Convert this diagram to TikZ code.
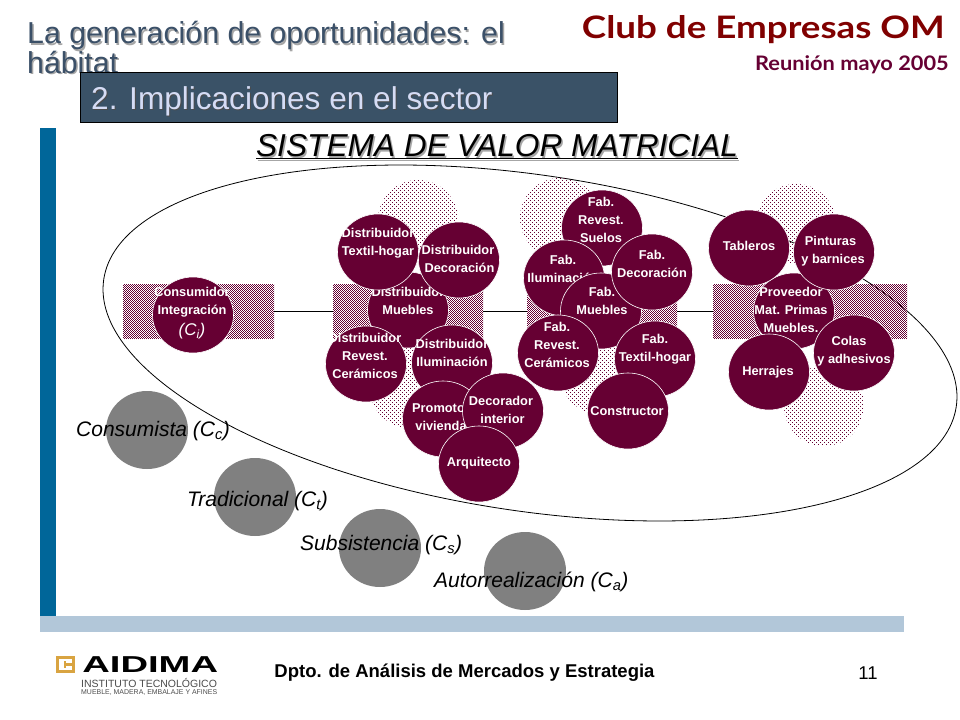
\documentclass[tikz,border=0pt]{standalone}
\usepackage{fontspec}
\setmainfont{Liberation Sans}
\newfontfamily\headfont{Lato}
\usetikzlibrary{shapes.geometric}
\definecolor{wine}{HTML}{660033}
\definecolor{slatebox}{HTML}{3A5267}
\definecolor{headtxt}{HTML}{3B5068}
\definecolor{boxtxt}{HTML}{D5DCF5}
\definecolor{barblue}{HTML}{006699}
\definecolor{barlight}{HTML}{B2C7D9}
\definecolor{clubred}{HTML}{800000}
\definecolor{logoor}{HTML}{D9A441}
\tikzset{
  bub/.style={ellipse,draw=white,line width=0.6bp,fill=wine,minimum width=81bp,minimum height=76bp,inner sep=0pt},
  graybub/.style={ellipse,fill=gray,minimum width=82bp,minimum height=78bp,inner sep=0pt},
  btxt/.style={text=white,font=\fontsize{12.85}{18.07}\selectfont\bfseries,align=center,inner sep=0pt},
  lab/.style={font=\fontsize{21.08}{22}\selectfont\itshape,inner sep=0pt},
  plainrect/.style={anchor=north west,minimum height=55bp,inner sep=0pt},
  wire/.style={line width=0.8bp,black},
  headstyle/.style={anchor=west,inner sep=0pt,font=\fontsize{30.4}{30}\selectfont}
}
% checkerboard: x0 y0 x1 y1, one-pixel squares, as alternating dashed rows
\newcommand{\checkerrows}[5]{% x0 y0 x1 y1 evenstart
  \begin{scope}
    \clip (#1,#2) rectangle (#3,#4);
    \pgfmathtruncatemacro{\yEnd}{#4-1}%
    \foreach \r in {#2,...,\yEnd}{%
      \pgfmathtruncatemacro{\ph}{mod(\r,2)}%
      \draw[wine,line width=1bp,dash pattern=on 1bp off 1bp,dash phase=\ph bp] (#5,\r+0.5) -- (#3,\r+0.5);
    }%
  \end{scope}%
}
% sparse dots clipped to a circle: cx cy
\newcommand{\dotblob}[2]{%
  \begin{scope}
    \clip (#1,#2) circle [radius=40];
    \pgfmathtruncatemacro{\yA}{#2-40}%
    \pgfmathtruncatemacro{\yB}{#2+40}%
    \pgfmathtruncatemacro{\yC}{#2-38}%
    \foreach \r in {\yA,\yC,...,\yB}{%
      \pgfmathtruncatemacro{\ph}{mod((\r-\yA)/2,2)*2}%
      \draw[wine,line width=1bp,dash pattern=on 1bp off 3bp,dash phase=\ph bp] (#1-40,\r+0.5) -- (#1+40,\r+0.5);
    }%
  \end{scope}%
}
\newcommand{\bubble}[6]{% name, cx, cy, tx, ty, text
  \node[bub] (#1) at (#2,#3) {};
  \node[btxt] (#1t) at (#4,#5) {#6};
}
\begin{document}
\begin{tikzpicture}[x=1bp,y=-1bp]
\useasboundingbox (0,0) rectangle (960,720);
\fill[white] (0,0) rectangle (960,720);
% bars
\fill[barblue] (40,128) rectangle (56,616);
\fill[barlight] (40,616) rectangle (904,632);
% header
\node[headstyle,text=gray!70] (h1s) at (28.5,37) {La generación de oportunidades: el};
\node[headstyle,text=gray!70] (h2s) at (28.5,63.5) {hábitat};
\node[headstyle,text=headtxt] (h1) at (27,35.5) {La generación de oportunidades: el};
\node[headstyle,text=headtxt] (h2) at (27,62) {hábitat};
\node[anchor=north west,draw=black,line width=0.8bp,fill=slatebox,minimum width=537bp,minimum height=50bp,inner sep=0pt] (box) at (80,72) {};
\node[anchor=west,inner sep=0pt,text=black!70,font=\fontsize{31.7}{32}\selectfont] (sub2) at (92,102) {2. Implicaciones en el sector};
\node[anchor=west,inner sep=0pt,text=boxtxt,font=\fontsize{31.7}{32}\selectfont] (sub) at (91,101) {2. Implicaciones en el sector};
\node[anchor=east,inner sep=0pt,text=clubred,font=\headfont\fontsize{31.1}{33}\selectfont\bfseries,xscale=1.186] (club) at (945,29.5) {Club de Empresas OM};
\node[anchor=east,inner sep=0pt,text=wine,font=\headfont\fontsize{20.07}{20}\selectfont\bfseries,xscale=1.09] (reun) at (949,65) {Reunión mayo 2005};
% title
\node[anchor=center,inner sep=0pt,text=gray!70,font=\fontsize{31.8}{32}\selectfont\itshape] (ts) at (498.5,148.5) {\underline{SISTEMA DE VALOR MATRICIAL}};
\node[anchor=center,inner sep=0pt,font=\fontsize{31.8}{32}\selectfont\itshape] (t) at (497,147) {\underline{SISTEMA DE VALOR MATRICIAL}};
% ellipse
\draw[line width=0.8bp,black,rotate around={-8.5:(530,343)}] (530,343) ellipse [x radius=431,y radius=168];
% dotted blobs
\dotblob{418}{220}
\dotblob{410}{388}
\dotblob{560}{218}
\dotblob{600}{374}
\dotblob{796}{224}
\dotblob{824}{406}
% rects
\checkerrows{123}{284}{274}{339}{122}
\checkerrows{333}{284}{483}{339}{332}
\checkerrows{527}{284}{677}{339}{526}
\checkerrows{713}{284}{907}{339}{712}
\node[plainrect,minimum width=151bp] (r0) at (123,284) {};
\node[plainrect,minimum width=150bp] (r1) at (333,284) {};
\node[plainrect,minimum width=150bp] (r2) at (527,284) {};
\node[plainrect,minimum width=194bp] (r3) at (713,284) {};
\draw[wire] (r0.east) -- (r1.west);
\draw[wire] (r1.east) -- (r2.west);
\draw[wire] (r2.east) -- (r3.west);
% gray
\node[graybub] (g1) at (147,430) {};
\node[graybub] (g2) at (255,497) {};
\node[graybub] (g3) at (380,548) {};
\node[graybub] (g4) at (525,571) {};
\node[lab,anchor=west] (l1) at (76,431) {Consumista (C\textsubscript{c})};
\node[lab,anchor=west] (l2) at (187,501) {Tradicional (C\textsubscript{t})};
\node[lab,anchor=west] (l3) at (300,545) {Subsistencia (C\textsubscript{s})};
\node[lab,anchor=west] (l4) at (434,582) {Autorrealización (C\textsubscript{a})};
% consumer
\node[bub] (c) at (193,315) {};
\node[btxt] (ct) at (192,302.5) {Consumidor\\Integración};
\node[text=white,inner sep=0pt,font=\fontsize{17}{18}\selectfont\itshape] (ci) at (192,331) {(C\textsubscript{i})};
% group 1
\bubble{d1}{408}{310}{408}{300.5}{Distribuidor\\Muebles}
\bubble{d2}{378}{252}{378}{243}{Distribuidor\\Textil-hogar}
\bubble{d3}{459}{260}{458}{259}{Distribuidor\\\hspace*{3pt}Decoración}
\bubble{d4}{366}{364}{365}{355.5}{Distribuidor\\Revest.\hspace*{6pt}\\Cerámicos}
\bubble{d5}{452}{363}{452}{353}{Distribuidor\\Iluminación}
\bubble{d6}{443}{419}{441}{417}{Promotor\\vivienda}
\bubble{d7}{503}{411}{501}{409.5}{Decorador\\\hspace*{3pt}interior}
\bubble{d8}{479}{464}{479}{463}{Arquitecto}
% group 2
\bubble{f1}{602}{228}{601}{220}{Fab.\\Revest.\hspace*{6pt}\\Suelos}
\bubble{f2}{564}{278}{563}{269}{Fab.\\Iluminación}
\bubble{f3}{601}{311}{602}{301}{Fab.\\Muebles}
\bubble{f4}{652}{272}{652}{263.5}{Fab.\\Decoración}
\bubble{f5}{558}{353}{557}{344.5}{Fab.\\Revest.\hspace*{6pt}\\Cerámicos}
\bubble{f6}{655}{359}{655}{349.5}{Fab.\\Textil-hogar}
\bubble{f7}{628}{411}{627}{411}{Constructor}
% group 3
\bubble{p1}{794}{311}{791}{310}{Proveedor\\Mat. Primas\\Muebles.}
\bubble{p2}{749}{248}{749}{246}{Tableros}
\bubble{p3}{834}{252}{833}{251.5}{Pinturas\hspace*{5pt}\\y barnices}
\bubble{p4}{854}{353}{854}{351.5}{Colas\hspace*{10pt}\\y adhesivos}
\bubble{p5}{769}{372}{768}{372}{Herrajes}
% footer
\node[inner sep=0pt,font=\fontsize{18.57}{19}\selectfont\bfseries] (dp) at (464.5,673) {Dpto. de Análisis de Mercados y Estrategia};
\node[inner sep=0pt,font=\fontsize{18.57}{19}\selectfont] (num) at (868,673) {11};
% logo
\fill[logoor] (56,656) rectangle (75,673);
\fill[white] (59,659) rectangle (72,670);
\fill[logoor] (64,663.3) rectangle (75,665.7);
\fill[logoor] (64,661) rectangle (66,668);
\node[anchor=west,inner sep=0pt,font=\fontsize{23.1}{23}\selectfont\bfseries,xscale=1.66] (lg) at (82,665) {AIDIMA};
\node[anchor=west,inner sep=0pt,text=black!70,font=\fontsize{10.54}{11}\selectfont] (lg2) at (81,683) {INSTITUTO TECNOLÓGICO};
\node[anchor=west,inner sep=0pt,text=black!70,font=\fontsize{6.98}{8}\selectfont] (lg3) at (81,692.5) {MUEBLE, MADERA, EMBALAJE Y AFINES};
\end{tikzpicture}
\end{document}
